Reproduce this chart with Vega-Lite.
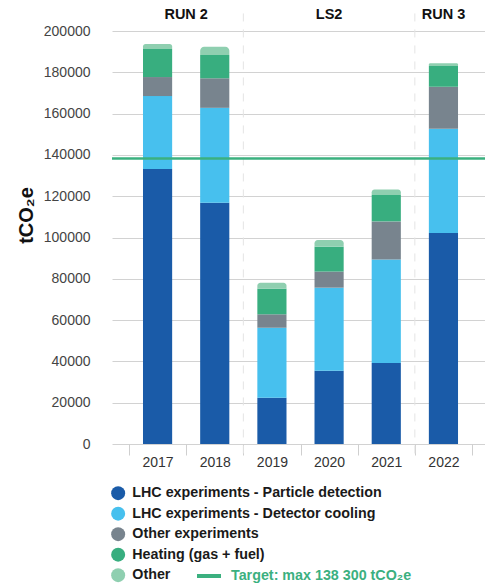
{
  "$schema": "https://vega.github.io/schema/vega-lite/v6.json",
  "autosize": "none",
  "padding": {"left": 112, "top": 31, "right": 0, "bottom": 142},
  "width": 373,
  "height": 413,
  "config": {
    "font": "Liberation Sans",
    "view": {"stroke": null},
    "axis": {"labelFont": "Liberation Sans", "titleFont": "Liberation Sans"},
    "legend": {"labelFont": "Liberation Sans"}
  },
  "data": {
    "values": [
      {"year": "2017", "category": "LHC experiments - Particle detection", "order": 1, "value": 133200},
      {"year": "2017", "category": "LHC experiments - Detector cooling", "order": 2, "value": 35300},
      {"year": "2017", "category": "Other experiments", "order": 3, "value": 9200},
      {"year": "2017", "category": "Heating (gas + fuel)", "order": 4, "value": 13600},
      {"year": "2017", "category": "Other", "order": 5, "value": 2400},
      {"year": "2018", "category": "LHC experiments - Particle detection", "order": 1, "value": 116800},
      {"year": "2018", "category": "LHC experiments - Detector cooling", "order": 2, "value": 46000},
      {"year": "2018", "category": "Other experiments", "order": 3, "value": 14300},
      {"year": "2018", "category": "Heating (gas + fuel)", "order": 4, "value": 11300},
      {"year": "2018", "category": "Other", "order": 5, "value": 4000},
      {"year": "2019", "category": "LHC experiments - Particle detection", "order": 1, "value": 22400},
      {"year": "2019", "category": "LHC experiments - Detector cooling", "order": 2, "value": 33900},
      {"year": "2019", "category": "Other experiments", "order": 3, "value": 6500},
      {"year": "2019", "category": "Heating (gas + fuel)", "order": 4, "value": 12400},
      {"year": "2019", "category": "Other", "order": 5, "value": 2900},
      {"year": "2020", "category": "LHC experiments - Particle detection", "order": 1, "value": 35500},
      {"year": "2020", "category": "LHC experiments - Detector cooling", "order": 2, "value": 40200},
      {"year": "2020", "category": "Other experiments", "order": 3, "value": 7800},
      {"year": "2020", "category": "Heating (gas + fuel)", "order": 4, "value": 12100},
      {"year": "2020", "category": "Other", "order": 5, "value": 3200},
      {"year": "2021", "category": "LHC experiments - Particle detection", "order": 1, "value": 39200},
      {"year": "2021", "category": "LHC experiments - Detector cooling", "order": 2, "value": 50200},
      {"year": "2021", "category": "Other experiments", "order": 3, "value": 18400},
      {"year": "2021", "category": "Heating (gas + fuel)", "order": 4, "value": 12800},
      {"year": "2021", "category": "Other", "order": 5, "value": 2700},
      {"year": "2022", "category": "LHC experiments - Particle detection", "order": 1, "value": 102200},
      {"year": "2022", "category": "LHC experiments - Detector cooling", "order": 2, "value": 50500},
      {"year": "2022", "category": "Other experiments", "order": 3, "value": 20300},
      {"year": "2022", "category": "Heating (gas + fuel)", "order": 4, "value": 10100},
      {"year": "2022", "category": "Other", "order": 5, "value": 1300}
    ]
  },
  "transform": [
    {"stack": "value", "groupby": ["year"], "sort": [{"field": "order"}], "as": ["v0", "v1"]}
  ],
  "layer": [
    {
      "transform": [{"filter": "datum.category !== 'Other'"}],
      "mark": {"type": "bar", "width": {"band": 0.51}},
      "encoding": {
        "x": {
          "field": "year", "type": "nominal", "title": null,
          "scale": {"domain": ["2017", "2018", "2019", "2020", "2021", "2022"], "paddingInner": 0, "paddingOuter": 0.262, "align": 0.567},
          "axis": {
            "domain": false, "grid": false, "tickBand": "extent", "tickColor": "#cfcfcf", "tickSize": 11,
            "labelAngle": 0, "labelFontSize": 14, "labelColor": "#333333", "labelPadding": 0
          }
        },
        "y": {
          "field": "v0", "type": "quantitative",
          "scale": {"domain": [0, 200000], "nice": false, "zero": true},
          "axis": {
            "title": "tCO₂e", "titleFontSize": 20, "titleFontWeight": "bold", "titleColor": "#111111",
            "titleX": -86, "titleY": 184, "titleAngle": -90, "titleAlign": "center", "titleBaseline": "middle",
            "values": [0, 20000, 40000, 60000, 80000, 100000, 120000, 140000, 160000, 180000, 200000],
            "format": "d", "domain": false, "ticks": false, "tickSize": 0, "labelPadding": 22,
            "labelFontSize": 14, "labelColor": "#444444",
            "grid": true, "gridColor": "#d2d2d2", "gridWidth": 1
          }
        },
        "y2": {"field": "v1"},
        "color": {
          "field": "category", "type": "nominal",
          "scale": {
            "domain": ["LHC experiments - Particle detection", "LHC experiments - Detector cooling", "Other experiments", "Heating (gas + fuel)", "Other"],
            "range": ["#1a5ba8", "#47c0ee", "#78848e", "#38ae7f", "#8fcfb0"]
          },
          "legend": {
            "title": null, "orient": "none", "legendX": -1, "legendY": 455, "padding": 0,
            "symbolType": "circle", "symbolSize": 196, "symbolStrokeWidth": 0, "symbolOpacity": 1,
            "labelFontSize": 14.3, "labelFontWeight": "bold", "labelColor": "#1a1a1a", "labelOffset": 7,
            "rowPadding": 5.5, "labelLimit": 400
          }
        }
      }
    },
    {
      "transform": [{"filter": "datum.category === 'Other'"}],
      "mark": {"type": "bar", "width": {"band": 0.51}, "cornerRadiusTopLeft": 4, "cornerRadiusTopRight": 4},
      "encoding": {
        "x": {"field": "year", "type": "nominal"},
        "y": {"field": "v0", "type": "quantitative"},
        "y2": {"field": "v1"},
        "color": {"field": "category", "type": "nominal"}
      }
    },
    {
      "data": {"values": [{"year": "2019"}, {"year": "2022"}]},
      "mark": {"type": "rule", "color": "#e4e4e4", "strokeWidth": 1, "strokeDash": [8, 8]},
      "encoding": {
        "x": {"field": "year", "type": "nominal", "bandPosition": 0},
        "y": {"datum": 208500},
        "y2": {"datum": -5000}
      }
    },
    {
      "data": {"values": [{"target": 138300, "label": "Target: max 138 300 tCO₂e"}]},
      "mark": {"type": "rule", "strokeWidth": 2.5},
      "encoding": {
        "y": {"field": "target", "type": "quantitative"},
        "stroke": {
          "field": "label", "type": "nominal",
          "scale": {"range": ["#3bb07f"]},
          "legend": {
            "title": null, "orient": "none", "legendX": 83, "legendY": 531, "padding": 0,
            "symbolType": "stroke", "symbolSize": 576, "symbolStrokeWidth": 4,
            "labelFontSize": 14.3, "labelFontWeight": "bold", "labelColor": "#3bb07f", "labelOffset": 8, "labelLimit": 400
          }
        }
      }
    },
    {
      "data": {"values": [{"period": "RUN 2", "year": "2018"}]},
      "mark": {"type": "text", "fontSize": 14.5, "fontWeight": "bold", "color": "#111111", "baseline": "middle"},
      "encoding": {
        "x": {"field": "year", "type": "nominal", "bandPosition": 0},
        "y": {"datum": 207600},
        "text": {"field": "period"}
      }
    },
    {
      "data": {"values": [{"period": "LS2", "year": "2020"}, {"period": "RUN 3", "year": "2022"}]},
      "mark": {"type": "text", "fontSize": 14.5, "fontWeight": "bold", "color": "#111111", "baseline": "middle"},
      "encoding": {
        "x": {"field": "year", "type": "nominal"},
        "y": {"datum": 207600},
        "text": {"field": "period"}
      }
    }
  ]
}
